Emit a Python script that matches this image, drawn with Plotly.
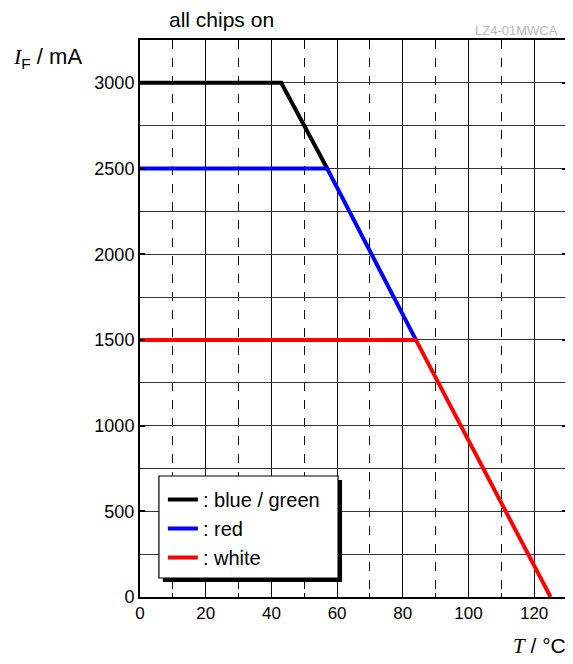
import plotly.graph_objects as go

# Data
bg_T = [0, 43, 57]
bg_I = [3000, 3000, 2500]
red_T = [0, 57, 84]
red_I = [2500, 2500, 1500]
white_T = [0, 84, 125]
white_I = [1500, 1500, 0]

names = [": blue / green", ": red", ": white"]
colors = ["#000000", "#0000ff", "#ff0000"]

x_ticks = [0, 20, 40, 60, 80, 100, 120]
y_ticks = [0, 500, 1000, 1500, 2000, 2500, 3000]

FONT = "Liberation Sans, Arial, sans-serif"

fig = go.Figure()
for xs, ys, n, c in zip([bg_T, red_T, white_T], [bg_I, red_I, white_I], names, colors):
    fig.add_trace(go.Scatter(x=xs, y=ys, mode="lines", name=n,
                             line=dict(color=c, width=4)))

# page body has an 8px margin -> work in reference pixels, shift by OFF
OFF = 8
RW, RH = 573, 664
W, H = RW - OFF, RH - OFF
ml, mr, mt, mb = 140 - OFF, 4, 40 - OFF, 67
pw, ph = W - ml - mr, H - mt - mb

def px_x(p):
    return (p - OFF - ml) / pw

def px_y(p):
    return (H - mb - (p - OFF)) / ph

shapes = [
    # legend shadow
    dict(type="rect", xref="paper", yref="paper",
         x0=px_x(163), x1=px_x(343), y0=px_y(582), y1=px_y(480),
         fillcolor="black", line=dict(width=0), layer="above"),
    # legend box
    dict(type="rect", xref="paper", yref="paper",
         x0=px_x(159), x1=px_x(339), y0=px_y(578), y1=px_y(476),
         fillcolor="white", line=dict(color="black", width=1.2), layer="above"),
]

fig.update_layout(
    width=W, height=H,
    margin=dict(l=ml, r=mr, t=mt, b=mb, pad=0),
    paper_bgcolor="white", plot_bgcolor="white",
    font=dict(family=FONT, size=18, color="black"),
    showlegend=True,
    legend=dict(x=px_x(163), y=px_y(480), xanchor="left", yanchor="top",
                bgcolor="rgba(0,0,0,0)", borderwidth=0,
                font=dict(family=FONT, size=20, color="black"),
                tracegroupgap=0, itemwidth=30),
    shapes=shapes,
    xaxis=dict(range=[0, 130], tickvals=x_ticks, ticktext=[str(v) for v in x_ticks],
               showgrid=True, gridcolor="#111111", gridwidth=1,
               minor=dict(dtick=10, showgrid=True, gridcolor="#111111", gridwidth=1,
                          griddash="dash", ticks="inside", ticklen=4, tickcolor="black"),
               ticks="inside", ticklen=5, tickcolor="black", tickwidth=1,
               showline=True, linecolor="black", linewidth=2, mirror="allticks",
               zeroline=False, tickfont=dict(size=17), fixedrange=True),
    yaxis=dict(range=[0, 3250], tickvals=y_ticks, ticktext=[str(v) for v in y_ticks],
               showgrid=True, gridcolor="#333333", gridwidth=1,
               minor=dict(dtick=250, showgrid=True, gridcolor="#333333", gridwidth=1),
               ticks="inside", ticklen=5, tickcolor="black", tickwidth=2,
               showline=True, linecolor="black", linewidth=2, mirror="allticks",
               zeroline=False, tickfont=dict(size=18), fixedrange=True),
    annotations=[
        dict(text="all chips on", xref="paper", yref="paper",
             x=px_x(167), y=px_y(19), xanchor="left", yanchor="middle",
             showarrow=False, font=dict(size=21, family=FONT)),
        dict(text="LZ4-01MWCA", xref="paper", yref="paper",
             x=px_x(562), y=px_y(31), xanchor="right", yanchor="middle",
             showarrow=False, font=dict(size=13, family=FONT, color="#b8b8b8")),
        dict(text="<span style='font-family:Liberation Serif;font-style:italic'>I</span><sub>F</sub> / mA",
             xref="paper", yref="paper",
             x=px_x(10), y=px_y(58), xanchor="left", yanchor="middle",
             showarrow=False, font=dict(size=22, family=FONT)),
        dict(text="<span style='font-family:Liberation Serif;font-style:italic'>T</span> / °C",
             xref="paper", yref="paper",
             x=px_x(570), y=px_y(646), xanchor="right", yanchor="middle",
             showarrow=False, font=dict(size=21, family=FONT)),
    ],
)

fig.write_html("out.html")
